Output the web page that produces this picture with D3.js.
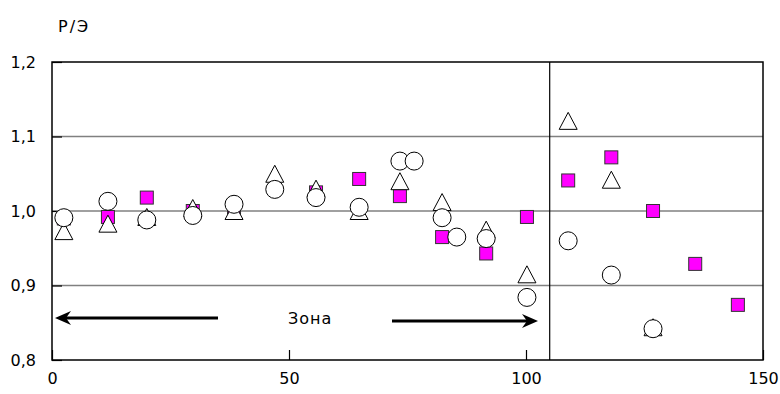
<!doctype html>
<html>
<head>
<meta charset="utf-8">
<title>Р/Э</title>
<style type="text/css">
body { margin: 0; background: #fff; }
svg text { font-family: "DejaVu Sans", sans-serif; }
</style>
<script src="https://cdnjs.cloudflare.com/ajax/libs/d3/7.8.5/d3.min.js"></script>
</head>
<body>
<script type="text/javascript">
// values
var xTicks = [0, 50, 100, 150];
var yTicks = [0.8, 0.9, 1.0, 1.1, 1.2];
var zoneEdge = 105;

var circleX = [2.5, 11.8, 20, 29.7, 38.4, 47, 55.7, 64.8, 73.4, 76.4, 82.3, 85.4, 91.6, 100.2, 108.9, 118, 126.8];
var circleY = [0.991, 1.013, 0.988, 0.994, 1.009, 1.029, 1.018, 1.005, 1.067, 1.067, 0.991, 0.965, 0.963, 0.884, 0.960, 0.914, 0.842];

var triX = [2.5, 11.8, 20, 29.7, 38.4, 47, 55.7, 64.8, 73.4, 82.3, 91.6, 100.2, 108.9, 118, 126.8];
var triY = [0.973, 0.983, 0.992, 1.004, 1.0, 1.05, 1.03, 1.0, 1.04, 1.012, 0.975, 0.915, 1.121, 1.042, 0.844];

var squareX = [2.5, 11.8, 20, 29.7, 38.4, 55.7, 64.8, 73.4, 82.3, 91.6, 100.2, 108.9, 118, 126.8, 135.7, 144.7];
var squareY = [0.99, 0.992, 1.018, 1.0, 1.005, 1.025, 1.043, 1.02, 0.965, 0.943, 0.992, 1.041, 1.072, 1.0, 0.929, 0.874];

var width = 780, height = 394;
var svg = d3.select("body").append("svg")
	.attr("width", width)
	.attr("height", height);

var x = d3.scaleLinear().domain([0, 150]).range([52, 763]);
var y = d3.scaleLinear().domain([0.8, 1.2]).range([360, 62]);

var comma = function(d) { return d.toFixed(1).replace(".", ","); };

// grid lines
svg.selectAll(".grid")
	.data([0.9, 1.0, 1.1])
	.enter().append("line")
	.attr("x1", x(0)).attr("x2", x(150))
	.attr("y1", function(d) { return y(d); })
	.attr("y2", function(d) { return y(d); })
	.style("stroke", "#808080")
	.style("stroke-width", 1.5);

// zone boundary
svg.append("line")
	.attr("x1", x(zoneEdge)).attr("x2", x(zoneEdge))
	.attr("y1", y(1.2)).attr("y2", y(0.8))
	.style("stroke", "#000").style("stroke-width", 1.2);

// frame
svg.append("rect")
	.attr("x", x(0)).attr("y", y(1.2))
	.attr("width", x(150) - x(0)).attr("height", y(0.8) - y(1.2))
	.style("fill", "none").style("stroke", "#000").style("stroke-width", 1.5);

// axes
var xAxis = svg.append("g")
	.attr("transform", "translate(0," + y(0.8) + ")")
	.call(d3.axisBottom(x).tickValues(xTicks).tickSizeInner(-10).tickSizeOuter(0).tickPadding(13));
var yAxis = svg.append("g")
	.attr("transform", "translate(" + x(0) + ",0)")
	.call(d3.axisLeft(y).tickValues(yTicks).tickFormat(comma).tickSizeInner(-10).tickSizeOuter(0).tickPadding(16));

[xAxis, yAxis].forEach(function(g) {
	g.select(".domain").remove();
	g.selectAll("line").style("stroke", "#000").style("stroke-width", 1.2);
	g.selectAll("text").style("font-size", "16px").style("font-family", "DejaVu Sans").attr("fill", "#000");
});

svg.append("text")
	.attr("x", 58).attr("y", 32)
	.style("font-size", "16px")
	.style("letter-spacing", "2px")
	.text("Р/Э");

// arrows
function arrow(x1, x2, yv) {
	var dir = x2 > x1 ? 1 : -1;
	svg.append("line")
		.attr("x1", x1).attr("x2", x2 - dir * 10)
		.attr("y1", yv).attr("y2", yv)
		.style("stroke", "#000").style("stroke-width", 3);
	svg.append("path")
		.attr("d", "M" + x2 + "," + yv + "L" + (x2 - dir * 16) + "," + (yv - 7) +
			"L" + (x2 - dir * 11) + "," + yv + "L" + (x2 - dir * 16) + "," + (yv + 7) + "Z")
		.style("fill", "#000");
}
arrow(218, 55, 318);
arrow(392, 538, 321);

svg.append("text")
	.attr("x", 288).attr("y", 324)
	.style("font-size", "16px")
	.style("letter-spacing", "1px")
	.text("Зона");

// squares
svg.selectAll(".sq")
	.data(d3.zip(squareX, squareY))
	.enter().append("rect")
	.attr("x", function(d) { return x(d[0]) - 6.5; })
	.attr("y", function(d) { return y(d[1]) - 6.5; })
	.attr("width", 13).attr("height", 13)
	.style("fill", "#ff00ff").style("stroke", "#333").style("stroke-width", 1);

// triangles
svg.selectAll(".tri")
	.data(d3.zip(triX, triY))
	.enter().append("path")
	.attr("transform", function(d) { return "translate(" + x(d[0]) + "," + y(d[1]) + ")"; })
	.attr("d", "M0,-8.5L9,8.5L-9,8.5Z")
	.style("fill", "#fff").style("stroke", "#000").style("stroke-width", 1);

// circles
svg.selectAll(".circ")
	.data(d3.zip(circleX, circleY))
	.enter().append("circle")
	.attr("cx", function(d) { return x(d[0]); })
	.attr("cy", function(d) { return y(d[1]); })
	.attr("r", 9)
	.style("fill", "#fff").style("stroke", "#000").style("stroke-width", 1);
</script>
</body>
</html>
